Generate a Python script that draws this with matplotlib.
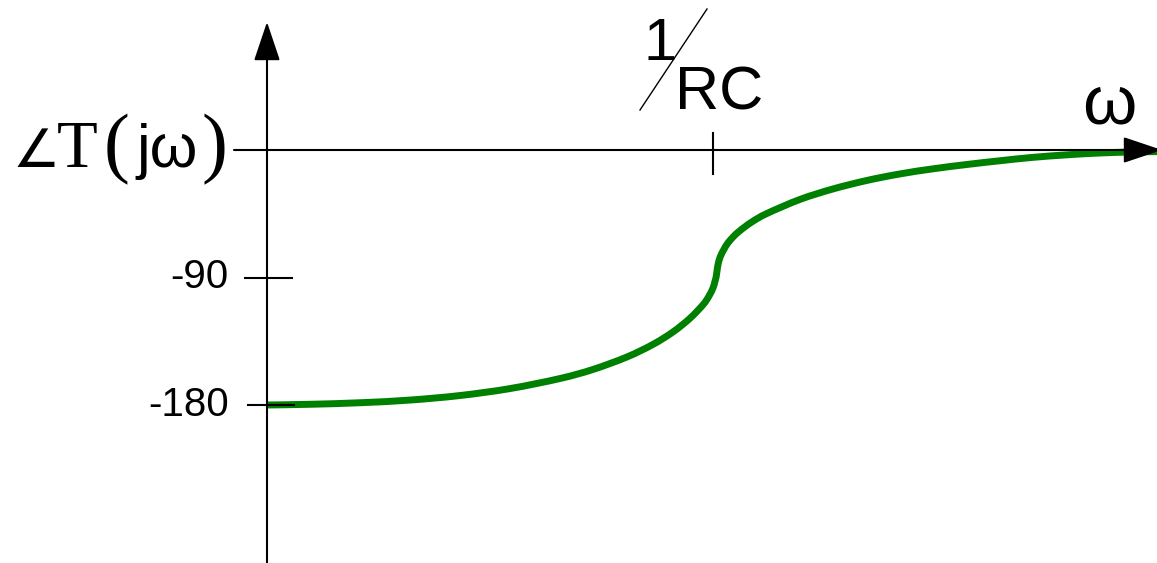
import numpy as np
import matplotlib
matplotlib.use("Agg")
import matplotlib.pyplot as plt
from matplotlib.path import Path
from matplotlib.patches import PathPatch

# phase response, omega in units of 1/RC, phase in degrees
omega = [0.000, 0.096, 0.209, 0.321, 0.433, 0.545, 0.657, 0.731, 0.807, 0.865,
         0.910, 0.948, 0.978, 0.991, 1.000, 1.004, 1.007, 1.009, 1.012, 1.018,
         1.031, 1.045, 1.061, 1.087, 1.121, 1.195, 1.269, 1.345, 1.419, 1.493,
         1.570, 1.643, 1.717, 1.794, 1.868, 1.942, 2.002]
phase = [-180.0, -179.5, -178.4, -176.5, -173.3, -168.4, -161.3, -154.9, -146.1, -137.3,
         -128.5, -118.9, -109.1, -103.1, -97.4, -93.2, -89.6, -85.4, -79.8, -74.1,
         -66.7, -61.4, -56.8, -50.8, -44.8, -34.9, -27.5, -21.5, -16.9, -13.3,
         -10.2, -7.6, -5.2, -3.4, -2.1, -1.4, -1.1]

yticks = [-90, -180]
ytick_labels = ["-90", "-180"]
xtick = 1.0

W, H = 1157, 563
fig = plt.figure(figsize=(W / 100, H / 100), dpi=100)
ax = fig.add_axes([0, 0, 1, 1])
ax.axis("off")

# pixel <-> data: origin at (267, 150), 1/RC at x=713, 90 deg = 127.5 px
x0, y0 = 267, 150
sx = 713 - x0
sy = 127.5 / 90
ax.set_xlim(-x0 / sx, (W - x0) / sx)
ax.set_ylim(-(H - y0) / sy, y0 / sy)

def px(x):
    return (x - x0) / sx

def py(y):
    return -(y - y0) / sy

# smooth curve through the points (Catmull-Rom segments as cubic Beziers)
pts = np.column_stack([omega, phase])
verts = [pts[0]]
codes = [Path.MOVETO]
for i in range(len(pts) - 1):
    p0 = pts[max(i - 1, 0)]
    p1 = pts[i]
    p2 = pts[i + 1]
    p3 = pts[min(i + 2, len(pts) - 1)]
    verts += [p1 + (p2 - p0) / 6, p2 - (p3 - p1) / 6, p2]
    codes += [Path.CURVE4] * 3
curve = PathPatch(Path(verts, codes), facecolor="none", edgecolor="#008000",
                  lw=5.0, capstyle="butt", zorder=2)
ax.add_patch(curve)

arrow = dict(arrowstyle="-|>,head_length=1.22,head_width=0.41", color="black",
             lw=1.5, shrinkA=0, shrinkB=0, mutation_scale=20)
# vertical axis
ax.annotate("", xy=(0, py(22)), xytext=(0, py(563)), arrowprops=arrow,
            annotation_clip=False, zorder=3)
# horizontal axis
ax.annotate("", xy=(px(1162), 0), xytext=(px(234), 0), arrowprops=arrow,
            annotation_clip=False, zorder=3)

# ticks
ax.plot([px(245), px(292)], [yticks[0]] * 2, color="black", lw=1.5, zorder=3)
ax.plot([px(248), px(294)], [yticks[1]] * 2, color="black", lw=1.5, zorder=3)
ax.plot([xtick, xtick], [py(133), py(174)], color="black", lw=1.5, zorder=3)

sans = ["Liberation Sans", "DejaVu Sans"]
for v, lab in zip(yticks, ytick_labels):
    ax.text(px(229), v, lab, ha="right", va="center", fontsize=29, family=sans)

# 1/RC label
ax.text(px(643), py(60), "1", ha="left", va="baseline", fontsize=43, family=sans)
ax.text(px(675), py(110), "RC", ha="left", va="baseline", fontsize=44, family=sans)
ax.plot([px(640), px(707)], [py(110), py(9)], color="black", lw=1.0)

# omega label at the end of the horizontal axis
ax.text(px(1082), py(123), "ω", ha="left", va="baseline", fontsize=50, family=sans)

# vertical axis label
serif = ["Liberation Serif", "DejaVu Serif"]
ax.text(px(12), py(167), "∠", ha="left", va="baseline", fontsize=38,
        family=["DejaVu Sans"])
ax.text(px(57), py(167), "T", ha="left", va="baseline", fontsize=48, family=serif)
ax.text(px(104), py(150), "(", ha="left", va="center", fontsize=56, family=serif)
ax.text(px(136), py(167), "jω", ha="left", va="baseline", fontsize=44, family=sans)
ax.text(px(202), py(150), ")", ha="left", va="center", fontsize=56, family=serif)

fig.savefig("out.png", dpi=100)
